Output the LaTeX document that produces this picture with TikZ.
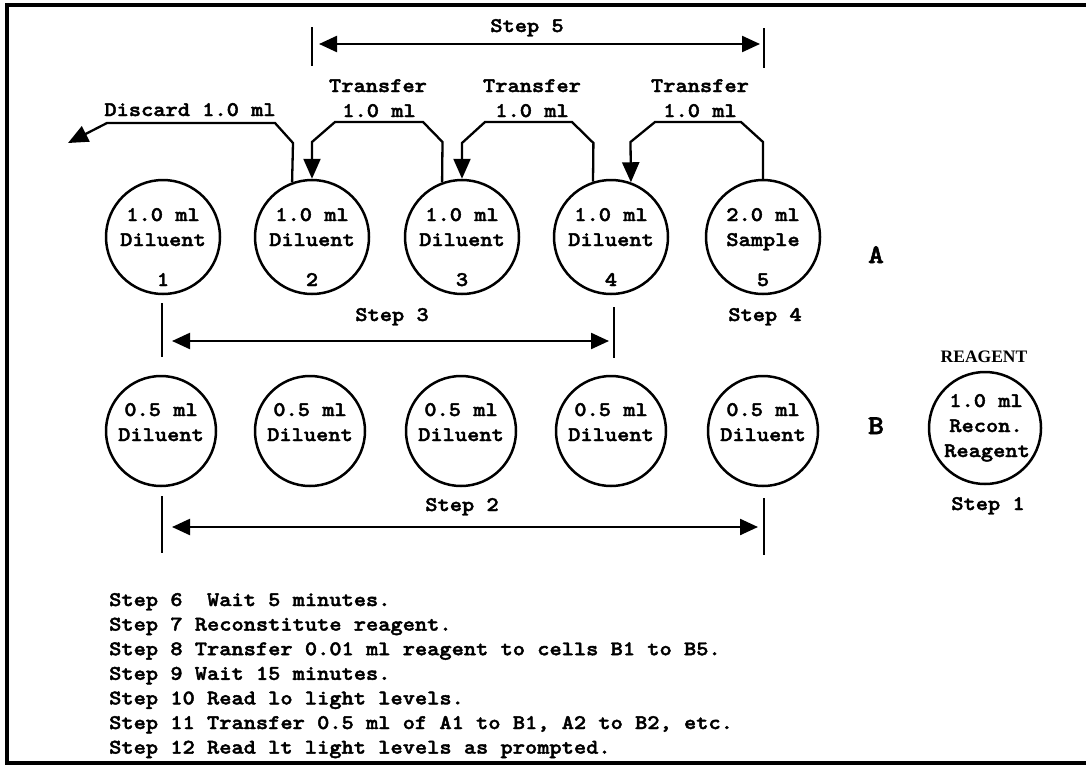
\documentclass[tikz,border=0pt]{standalone}
\usepackage{fontspec}
\newfontfamily\cour{lmmonolt10-bold.otf}[FakeStretch=1.12,FakeBold=2]
\newfontfamily\tser{Liberation Serif}
\usetikzlibrary{arrows.meta}
\tikzset{
  txt/.style={font=\cour\fontsize{20.8}{24}\selectfont, inner sep=0pt, anchor=base},
  ltxt/.style={txt, anchor=base west},
  big/.style={font=\cour\fontsize{27}{30}\selectfont, inner sep=0pt, anchor=base},
  serlab/.style={font=\tser\bfseries\fontsize{17.5}{20}\selectfont, inner sep=0pt, anchor=base},
  cella/.style={circle, draw, line width=2.5pt, minimum size=114pt, inner sep=0pt},
  cellb/.style={circle, draw, line width=2.5pt, minimum size=110pt, inner sep=0pt},
  conn/.style={line width=2.3pt, line join=miter},
  tip/.style={-{Triangle[length=20pt,width=17pt]}},
  dtip/.style={{Triangle[length=18pt,width=16pt]}-{Triangle[length=18pt,width=16pt]}},
  bar/.style={line width=2.3pt},
}
\begin{document}
\begin{tikzpicture}[x=1pt,y=-1pt]
\useasboundingbox (0,0) rectangle (1086,766);
% frame
\draw[line width=3.2pt] (1086,5) -- (7,5) -- (7,763) -- (1086,763);

% row A cells
\foreach \i/\x/\v/\w in {1/163/1.0 ml/Diluent,2/312/1.0 ml/Diluent,3/462/1.0 ml/Diluent,4/611/1.0 ml/Diluent,5/763/2.0 ml/Sample}{
  \node[cella] (a\i) at (\x,237) {};
  \node[txt] (a\i t1) at (\x,221) {\v};
  \node[txt] (a\i t2) at (\x,246) {\w};
  \node[txt] (a\i n) at (\x,286) {\i};
}
% row B cells
\foreach \i/\x in {1/161,2/310,3/461,4/611,5/763}{
  \node[cellb] (b\i) at (\x,431) {};
  \node[txt] (b\i t1) at (\x,416) {0.5 ml};
  \node[txt] (b\i t2) at (\x,441) {Diluent};
}
% reagent
\node[cellb, minimum size=112pt] (rg) at (985,428) {};
\node[txt] (rg1) at (986,407) {1.0 ml};
\node[txt] (rg2) at (986,432) {Recon.};
\node[txt] (rg3) at (987,457) {Reagent};
\node[serlab] (rglab) at (984,362) {REAGENT};
\node[txt] (st1) at (988,510) {Step 1};

% row labels
\node[big] (la) at (876,263) {A};
\node[big] (lb) at (876,434) {B};

% transfers
\coordinate (disc) at (68,143);
\draw[conn,tip] (a2.110) -- (293,143) -- (275,123) -- (107,123) -- (disc);
\node[txt] (dl) at (190,116) {Discard 1.0 ml};

\draw[conn,tip] (a3.110) -- (442.5,142) -- (423,122) -- (335,122) -- (312,142) -- (a2.north);
\node[txt] (t32a) at (378,92) {Transfer};
\node[txt] (t32b) at (379,117) {1.0 ml};

\draw[conn,tip] (a4.108) -- (593.4,143) -- (572,122) -- (485,122) -- (462,143) -- (a3.north);
\node[txt] (t43a) at (532,92) {Transfer};
\node[txt] (t43b) at (532,117) {1.0 ml};

\draw[conn,tip] (a5.north) -- (763,142) -- (741,122) -- (655,122) -- (630.5,142) -- (a4.70);
\node[txt] (t54a) at (700,92) {Transfer};
\node[txt] (t54b) at (700,117) {1.0 ml};

% Step 5
\coordinate (s5l) at (312,44);
\coordinate (s5r) at (764,44);
\draw[bar] (312,27) -- (312,66);
\draw[bar] (764,28) -- (764,68);
\draw[conn,dtip,shorten <=7pt,shorten >=4pt] (s5l) -- (s5r);
\node[txt] (st5) at (527,32) {Step 5};

% Step 3
\coordinate (s3l) at (162,341);
\coordinate (s3r) at (614,341);
\draw[bar] (162,303) -- (162,357);
\draw[bar] (614,307) -- (614,358);
\draw[conn,dtip,shorten <=10pt,shorten >=5pt] (s3l) -- (s3r);
\node[txt] (st3) at (392,321) {Step 3};
\node[txt] (st4) at (765,321) {Step 4};

% Step 2
\coordinate (s2l) at (162,527);
\coordinate (s2r) at (764,527);
\draw[bar] (162,496) -- (162,553);
\draw[bar] (764,498) -- (764,555);
\draw[conn,dtip,shorten <=10pt,shorten >=6pt] (s2l) -- (s2r);
\node[txt] (st2) at (462,511) {Step 2};

% instructions
\node[ltxt] (l6) at (109,606) {Step 6\ \ Wait 5 minutes.};
\node[ltxt] (l7) at (109,630.6) {Step 7 Reconstitute reagent.};
\node[ltxt] (l8) at (109,655.2) {Step 8 Transfer 0.01 ml reagent to cells B1 to B5.};
\node[ltxt] (l9) at (109,679.8) {Step 9 Wait 15 minutes.};
\node[ltxt] (l10) at (109,704.4) {Step 10 Read lo light levels.};
\node[ltxt] (l11) at (109,729) {Step 11 Transfer 0.5 ml of A1 to B1, A2 to B2, etc.};
\node[ltxt] (l12) at (109,753.6) {Step 12 Read lt light levels as prompted.};
\end{tikzpicture}
\end{document}
